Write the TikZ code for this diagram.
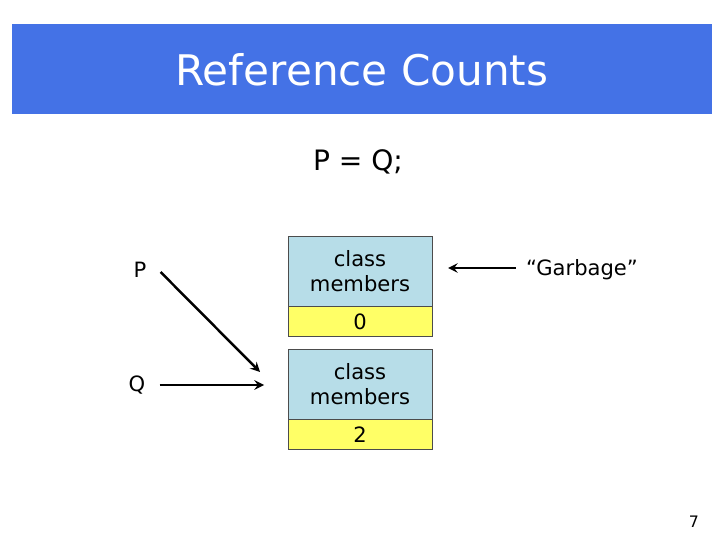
\documentclass[tikz,border=0pt]{standalone}
\usepackage{fontspec}
\setmainfont{DejaVu Sans}
\definecolor{titleblue}{HTML}{4472E6}
\definecolor{boxblue}{HTML}{B7DDE8}
\definecolor{boxyellow}{HTML}{FFFF66}
\begin{document}
\begin{tikzpicture}[x=0.02cm, y=-0.02cm,
  member/.style={rectangle, draw=black!70, fill=boxblue, minimum width=2.88cm, minimum height=1.4cm, inner sep=0pt, align=center, font=\fontsize{12}{14}\selectfont},
  count/.style={rectangle, draw=black!70, fill=boxyellow, minimum width=2.88cm, minimum height=0.6cm, inner sep=0pt, font=\fontsize{12}{14}\selectfont},
  lbl/.style={font=\fontsize{12}{14}\selectfont},
  ptr/.style={->, >=stealth, line width=1.4pt}]
  \useasboundingbox (0,0) rectangle (720,540);
  % Header
  \fill[titleblue] (12,24) rectangle (712,114);
  \node (title) [text=white, font=\fontsize{24}{28}\selectfont] at (362,70) {Reference Counts};
  \node (stmt) [font=\fontsize{16}{19}\selectfont] at (358,162) {P = Q;};
  % Objects
  \node (obj1) [member] at (360,271) {class\\members};
  \node (cnt1) [count, anchor=north] at (obj1.south) {0};
  \node (obj2) [member] at (360,384) {class\\members};
  \node (cnt2) [count, anchor=north] at (obj2.south) {2};
  % Pointers
  \node (P) [lbl] at (140,270) {P};
  \node (Q) [lbl] at (137,385) {Q};
  \node (garbage) [lbl] at (582,270) {“Garbage”};
  \coordinate (pEnd) at (260,372);
  \coordinate (qEnd) at (264,385);
  \coordinate (gEnd) at (448,268);
  % Arrows
  \draw[ptr] (P.east) ++(8,2) -- (pEnd);
  \draw[ptr] (Q.east) ++(8,0) -- (qEnd);
  \draw[ptr] (garbage.west) ++(-4,-2) -- (gEnd);
  \node (page) [font=\fontsize{9}{11}\selectfont] at (694,522) {7};
\end{tikzpicture}
\end{document}
